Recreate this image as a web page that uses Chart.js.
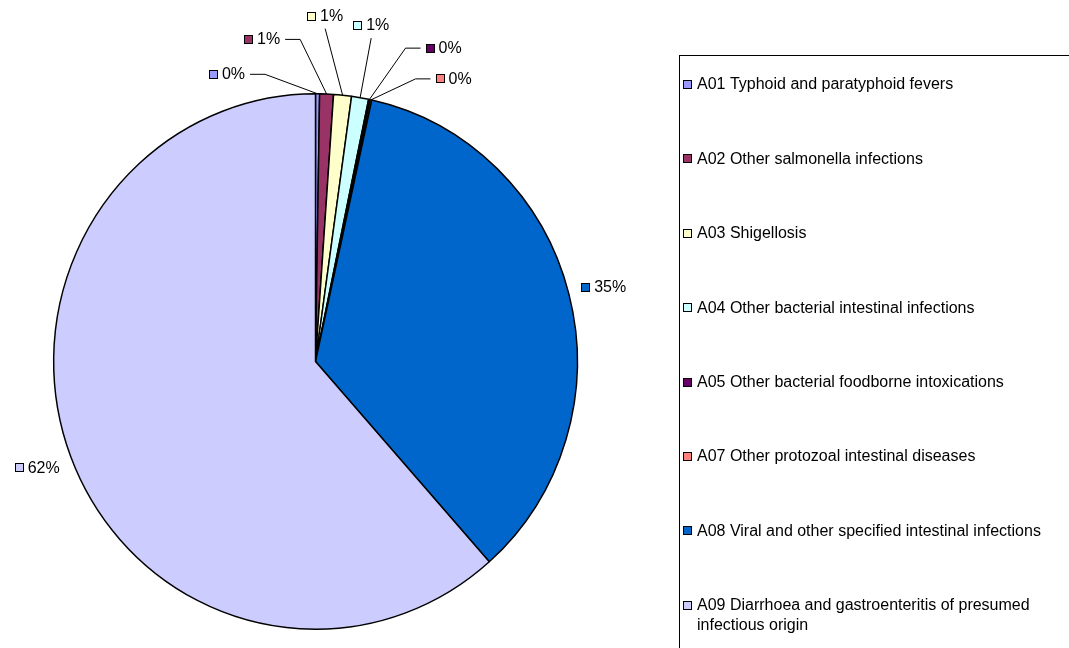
<!DOCTYPE html>
<html>
<head>
<meta charset="utf-8">
<title>Intestinal infectious diseases</title>
<script src="https://cdn.jsdelivr.net/npm/chart.js@4.4.0/dist/chart.umd.min.js"></script>
<style>
    html, body { margin: 0; padding: 0; background: #fff; }
    #wrap { width: 1069px; height: 648px; position: relative; }
</style>
</head>
<body>
<div id="wrap"><canvas id="pieChart" width="1069" height="648"></canvas></div>
<script>
// Chart data
const categories = [
    'A01 Typhoid and paratyphoid fevers',
    'A02 Other salmonella infections',
    'A03 Shigellosis',
    'A04 Other bacterial intestinal infections',
    'A05 Other bacterial foodborne intoxications',
    'A07 Other protozoal intestinal diseases',
    'A08 Viral and other specified intestinal infections',
    'A09 Diarrhoea and gastroenteritis of presumed infectious origin'
];
const shares = [0.25, 0.85, 1.1, 1.05, 0.1, 0.1, 35.0, 61.55];
const sliceColors = ['#9999FF', '#993366', '#FFFFCC', '#CCFFFF', '#660066', '#FF8080', '#0066CC', '#CCCCFF'];

// Label placement for the crowded small slices: [degrees clockwise from top, distance from centre]
const labelMoves = [[-17.1, 301], [-9.4, 327], [1.6, 346], [9.4, 341], [22.2, 339], [26, 315], null, null];

const FONT = '16px "Liberation Sans", Arial, sans-serif';
// the original pie is slightly narrower than it is tall
const X_SQUASH = 0.978;

function drawSwatch(ctx, x, yMid, color) {
    ctx.fillStyle = color;
    ctx.fillRect(x + 0.5, yMid - 3.5, 8, 8);
    ctx.strokeStyle = '#000';
    ctx.lineWidth = 1;
    ctx.strokeRect(x + 0.5, yMid - 3.5, 8, 8);
}

const squash = {
    id: 'squash',
    beforeDatasetsDraw(chart) {
        const arc = chart.getDatasetMeta(0).data[0];
        const ctx = chart.ctx;
        ctx.save();
        ctx.translate(arc.x, arc.y);
        ctx.scale(X_SQUASH, 1);
        ctx.translate(-arc.x, -arc.y);
    },
    afterDatasetsDraw(chart) {
        chart.ctx.restore();
    }
};

// Percent labels with leader lines
const pieLabels = {
    id: 'pieLabels',
    afterDatasetsDraw(chart) {
        const ctx = chart.ctx;
        const meta = chart.getDatasetMeta(0);
        const data = chart.data.datasets[0].data;
        const total = data.reduce((a, b) => a + b, 0);
        ctx.save();
        ctx.font = FONT;
        ctx.textBaseline = 'middle';
        meta.data.forEach((arc, i) => {
            const mid = (arc.startAngle + arc.endAngle) / 2;
            const px = arc.x + Math.cos(mid) * arc.outerRadius * X_SQUASH;
            const py = arc.y + Math.sin(mid) * arc.outerRadius;
            let ang = mid, dist = arc.outerRadius + 30;
            const mv = labelMoves[i];
            if (mv) {
                ang = mv[0] * Math.PI / 180 - Math.PI / 2;
                dist = mv[1];
            }
            const cx = arc.x + Math.cos(ang) * dist;
            const cy = arc.y + Math.sin(ang) * dist;
            const text = Math.round(data[i] / total * 100) + '%';
            const w = 13 + ctx.measureText(text).width;
            const left = cx - w / 2;

            drawSwatch(ctx, Math.round(left), Math.round(cy), sliceColors[i]);
            ctx.fillStyle = '#000';
            ctx.textAlign = 'left';
            ctx.fillText(text, left + 13, cy + 1);

            if (mv) {
                ctx.beginPath();
                ctx.strokeStyle = '#000';
                ctx.lineWidth = 1;
                const dx = px - cx, dy = py - cy;
                if (Math.abs(dx) > Math.abs(dy) * 0.8) {
                    const sx = dx > 0 ? left + w + 5 : left - 5;
                    const ex = sx + (dx > 0 ? 15 : -15);
                    ctx.moveTo(sx, cy + 0.5);
                    ctx.lineTo(ex, cy + 0.5);
                    ctx.lineTo(px, py);
                } else {
                    ctx.moveTo(cx, cy + 13);
                    ctx.lineTo(px, py);
                }
                ctx.stroke();
            }
        });
        ctx.restore();
    }
};

// Boxed legend on the right
const sideLegend = {
    id: 'sideLegend',
    afterDraw(chart) {
        const ctx = chart.ctx;
        ctx.save();
        ctx.strokeStyle = '#000';
        ctx.lineWidth = 1;
        ctx.strokeRect(679.5, 55.5, 600, 700);
        ctx.font = FONT;
        ctx.textBaseline = 'middle';
        ctx.textAlign = 'left';
        const maxW = 356;
        chart.data.labels.forEach((label, i) => {
            const y = 84 + i * 74.4;
            drawSwatch(ctx, 683, Math.round(y), sliceColors[i]);
            // word wrap
            const words = label.split(' ');
            const lines = [];
            let line = '';
            words.forEach(word => {
                const test = line ? line + ' ' + word : word;
                if (ctx.measureText(test).width > maxW && line) {
                    lines.push(line);
                    line = word;
                } else {
                    line = test;
                }
            });
            lines.push(line);
            ctx.fillStyle = '#000';
            lines.forEach((l, k) => ctx.fillText(l, 697, y + 1 + k * 20));
        });
        ctx.restore();
    }
};

const ctx = document.getElementById('pieChart').getContext('2d');
new Chart(ctx, {
    type: 'pie',
    data: {
        labels: categories,
        datasets: [{
            data: shares,
            backgroundColor: sliceColors,
            borderColor: '#000',
            borderWidth: 1.5
        }]
    },
    options: {
        responsive: false,
        animation: false,
        layout: {
            padding: { left: 47, right: 485, top: 93, bottom: 18 }
        },
        plugins: {
            legend: { display: false },
            tooltip: { enabled: false }
        }
    },
    plugins: [squash, pieLabels, sideLegend]
});
</script>
</body>
</html>
